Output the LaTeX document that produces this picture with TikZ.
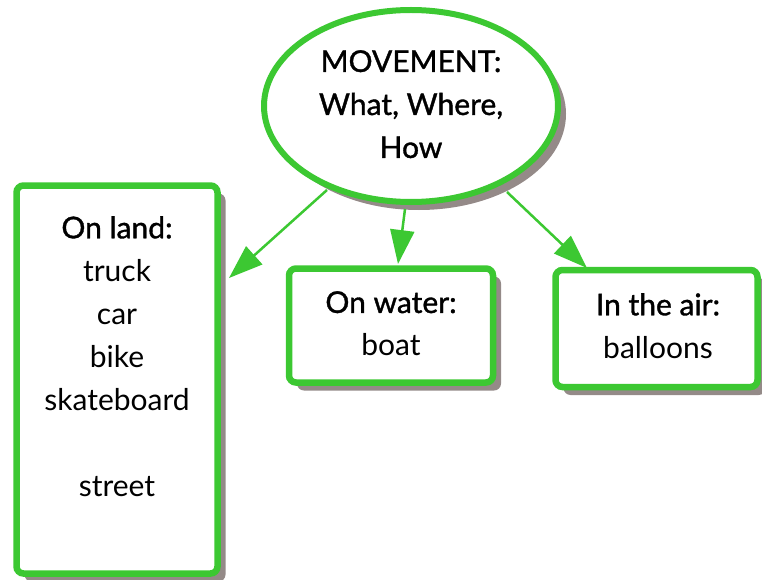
\documentclass[tikz,border=0pt]{standalone}
\usepackage{fontspec}
\setmainfont{Lato}
\newfontfamily\headfont[FakeBold=1.2]{Lato}
\newfontfamily\itemfont{Lato}
\usetikzlibrary{shapes.geometric,arrows.meta,shadows}
\definecolor{mygreen}{HTML}{3CC832}
\definecolor{shadowgray}{HTML}{948A88}
\tikzset{
  mybox/.style={draw=mygreen, line width=6.5pt, fill=white, rounded corners=7pt,
    drop shadow={shadow xshift=8pt, shadow yshift=-8pt, fill=shadowgray, opacity=1}},
  myell/.style={ellipse, draw=mygreen, line width=6pt, fill=white,
    drop shadow={shadow xshift=8pt, shadow yshift=-8pt, fill=shadowgray, opacity=1}},
  boxtext/.style={align=center, inner sep=0pt, anchor=north, font=\fontsize{30}{43}\selectfont\itemfont},
  conn/.style={draw=mygreen, line width=2.5pt, -{Triangle[length=34pt,width=24pt]}}
}
\begin{document}
\begin{tikzpicture}[x=1pt,y=-1pt]
\useasboundingbox (0,0) rectangle (762,580);
% boxes
\node[mybox, minimum width=201pt, minimum height=388pt] (land) at (117,379.5) {};
\node[mybox, minimum width=204pt, minimum height=114pt] (water) at (391,325.5) {};
\node[mybox, minimum width=202pt, minimum height=117pt] (air) at (656.5,328.5) {};
\node[myell, minimum width=294pt, minimum height=192pt] (move) at (411,106) {};
% texts
\node[boxtext] (movetxt) at (411,50) {{\headfont MOVEMENT:}\\{\headfont What, Where,}\\{\headfont How}};
\node[boxtext] (landtxt) at (117,216) {{\headfont On land:}\\truck\\car\\bike\\skateboard\\[43pt]street};
\node[boxtext] (watertxt) at (391,291) {{\headfont On water:}\\boat};
\node[boxtext] (airtxt) at (658,293) {{\headfont In the air:}\\balloons};
% connectors
\coordinate (s1) at (327,190);
\coordinate (s2) at (405,209);
\coordinate (s3) at (507,192);
\coordinate (t1) at (229,278);
\coordinate (t2) at (398,264);
\coordinate (t3) at (587,268);
\draw[conn] (s1) -- (t1);
\draw[conn] (s2) -- (t2);
\draw[conn] (s3) -- (t3);
\end{tikzpicture}
\end{document}
